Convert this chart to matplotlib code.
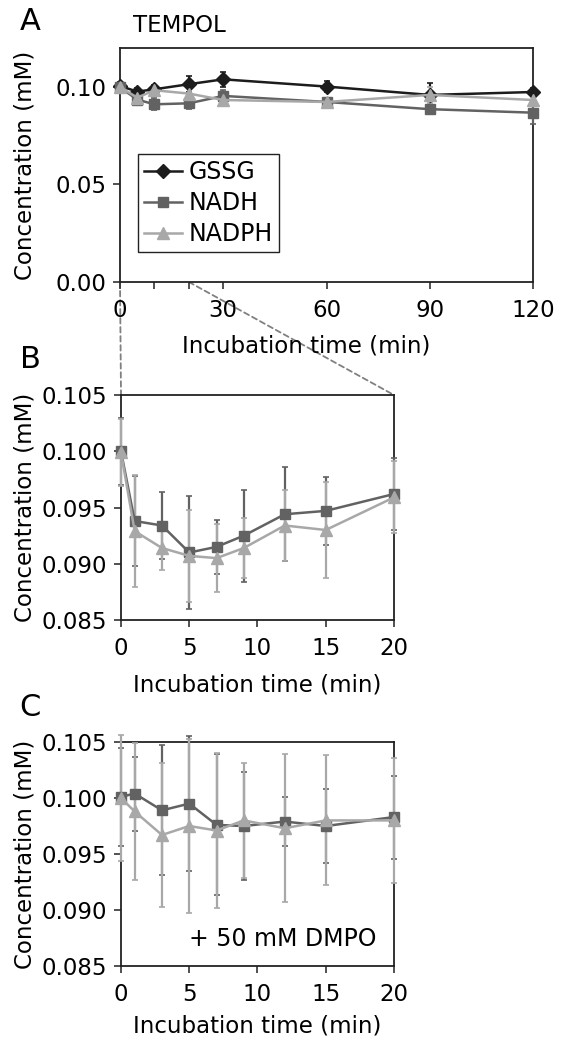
import numpy as np
import matplotlib
matplotlib.use("Agg")
import matplotlib.pyplot as plt
from matplotlib.patches import ConnectionPatch

plt.rcParams['font.family'] = ['DejaVu Sans']

# panel A - long incubation
time_a = [0, 5, 10, 20, 30, 60, 90, 120]
gssg_a = [0.1005, 0.0976, 0.0988, 0.1014, 0.1039, 0.1002, 0.0959, 0.0974]
gssg_a_err = [0.002, 0.002, 0.002, 0.004, 0.004, 0.003, 0.006, 0.002]
nadh_a = [0.0998, 0.0935, 0.0911, 0.0916, 0.0954, 0.0923, 0.0886, 0.0868]
nadh_a_err = [0.002, 0.003, 0.003, 0.003, 0.003, 0.002, 0.002, 0.006]
nadph_a = [0.1000, 0.0945, 0.0983, 0.0966, 0.0933, 0.0923, 0.0959, 0.0933]
nadph_a_err = [0.002, 0.002, 0.002, 0.003, 0.003, 0.002, 0.004, 0.003]

# panel B - first 20 min
time_b = [0, 1, 3, 5, 7, 9, 12, 15, 20]
nadh_b = [0.1000, 0.0938, 0.0934, 0.0910, 0.0915, 0.0925, 0.0944, 0.0947, 0.0962]
nadh_b_err = [0.003, 0.004, 0.003, 0.005, 0.0024, 0.0041, 0.0042, 0.003, 0.0032]
nadph_b = [0.0999, 0.0929, 0.0914, 0.0907, 0.0905, 0.0914, 0.0934, 0.0930, 0.0959]
nadph_b_err = [0.003, 0.005, 0.002, 0.0041, 0.003, 0.0027, 0.0032, 0.0043, 0.0032]

# panel C - with DMPO
time_c = [0, 1, 3, 5, 7, 9, 12, 15, 20]
nadh_c = [0.1001, 0.1004, 0.0989, 0.0995, 0.0976, 0.0975, 0.0979, 0.0975, 0.0983]
nadh_c_err = [0.0044, 0.0033, 0.0058, 0.006, 0.0063, 0.0048, 0.0022, 0.0033, 0.0037]
nadph_c = [0.1000, 0.0988, 0.0967, 0.0975, 0.0971, 0.0980, 0.0973, 0.0980, 0.0980]
nadph_c_err = [0.0056, 0.0061, 0.0064, 0.0078, 0.0069, 0.0051, 0.0066, 0.0058, 0.0056]

c_gssg = '#1c1c1c'
c_nadh = '#626262'
c_nadph = '#a8a8a8'
fs = 16.5

fig = plt.figure(figsize=(5.61, 10.42), dpi=100)
axA = fig.add_axes([0.2139, 0.7294, 0.7362, 0.2246])
axB = fig.add_axes([0.2157, 0.4050, 0.4866, 0.2159])
axC = fig.add_axes([0.2157, 0.0729, 0.4866, 0.2150])

def series(ax, x, y, err, color, marker, ms, label=None):
	return ax.errorbar(x, y, yerr=err, color=color, ecolor=color, marker=marker, ms=ms,
		lw=1.8, elinewidth=1.6, capsize=2, capthick=1.2, label=label, clip_on=False, zorder=3)

eb_g = series(axA, time_a, gssg_a, gssg_a_err, c_gssg, 'D', 7, 'GSSG')
eb_n = series(axA, time_a, nadh_a, nadh_a_err, c_nadh, 's', 7.5, 'NADH')
eb_p = series(axA, time_a, nadph_a, nadph_a_err, c_nadph, '^', 8.5, 'NADPH')
axA.set_xlim(0, 120)
axA.set_ylim(0, 0.12)
axA.set_xticks([0, 10, 20, 30, 60, 90, 120])
axA.set_xticklabels(['0', '', '', '30', '60', '90', '120'])
axA.set_yticks([0, 0.05, 0.10])
axA.set_yticklabels(['0.00', '0.05', '0.10'])
axA.set_xlabel('Incubation time (min)', fontsize=fs)
axA.xaxis.set_label_coords(0.45, -0.225)
# legend with line+marker only (no error bar glyph)
leg = axA.legend([eb_g[0], eb_n[0], eb_p[0]], ['GSSG', 'NADH', 'NADPH'],
	loc='lower left', bbox_to_anchor=(0.044, 0.128), borderaxespad=0,
	fontsize=17, fancybox=False, edgecolor='#222222', framealpha=1,
	handlelength=1.6, handletextpad=0.3, labelspacing=0.3, borderpad=0.25)
leg.get_frame().set_linewidth(1.0)

for ax, x, n, ne, p, pe in [(axB, time_b, nadh_b, nadh_b_err, nadph_b, nadph_b_err),
		(axC, time_c, nadh_c, nadh_c_err, nadph_c, nadph_c_err)]:
	series(ax, x, n, ne, c_nadh, 's', 7.5)
	series(ax, x, p, pe, c_nadph, '^', 8.5)
	ax.set_xlim(0, 20)
	ax.set_ylim(0.085, 0.105)
	ax.set_xticks([0, 5, 10, 15, 20])
	ax.set_yticks([0.085, 0.090, 0.095, 0.100, 0.105])
	ax.set_yticklabels(['0.085', '0.090', '0.095', '0.100', '0.105'])
	ax.set_xlabel('Incubation time (min)', fontsize=fs)

axB.xaxis.set_label_coords(0.5, -0.24)
axC.xaxis.set_label_coords(0.5, -0.215)

for ax in [axA, axB, axC]:
	ax.tick_params(labelsize=fs, direction='out', length=5, width=1.2, color='#333333', pad=5)
	ax.tick_params(axis='x', pad=7)
	for s in ax.spines.values():
		s.set_linewidth(1.3)
		s.set_color('#222222')
	ax.set_ylabel('Concentration (mM)', fontsize=fs)

axA.yaxis.set_label_coords(-0.203, 0.5)
axB.yaxis.set_label_coords(-0.311, 0.5)
axC.yaxis.set_label_coords(-0.311, 0.5)

axC.text(0.25, 0.12, '+ 50 mM DMPO', transform=axC.transAxes, fontsize=17, va='center')

fig.text(30/561, 1 - 22/1042, 'A', fontsize=22, ha='center', va='center')
fig.text(30/561, 1 - 360/1042, 'B', fontsize=22, ha='center', va='center')
fig.text(30/561, 1 - 707/1042, 'C', fontsize=22, ha='center', va='center')
fig.text(133/561, 1 - 25/1042, 'TEMPOL', fontsize=fs, ha='left', va='center')

# zoom lines linking panel A to panel B
for xa, xb in [(0, 0), (20, 20)]:
	con = ConnectionPatch(xyA=(xa, 0), coordsA='data', axesA=axA,
		xyB=(xb, 0.105), coordsB='data', axesB=axB,
		color='#808080', linestyle=(0, (3, 2)), lw=1.3, zorder=0)
	fig.add_artist(con)

fig.savefig('out.png', dpi=100)
